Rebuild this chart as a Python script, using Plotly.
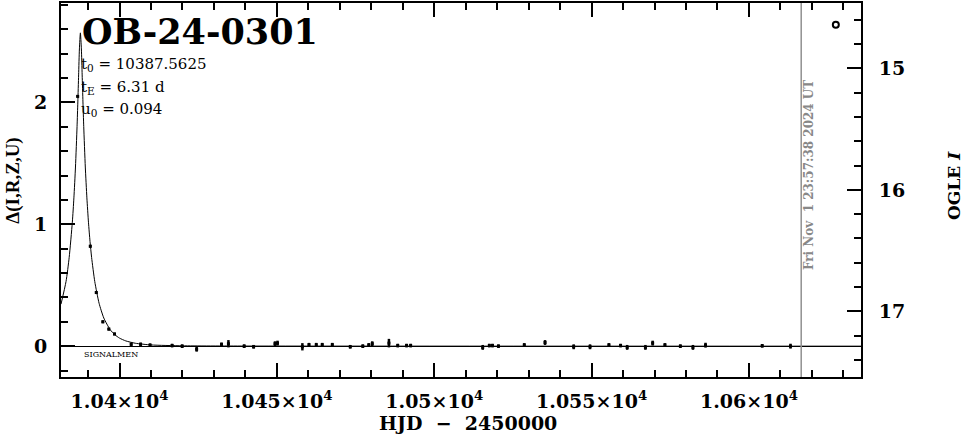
import plotly.graph_objects as go

# ---- data ----
model_t = [10381.4, 10383.0, 10384.0, 10385.0, 10385.5, 10386.0, 10386.5, 10386.75, 10387.0,
           10387.25, 10387.5625, 10387.875, 10388.125, 10388.375, 10388.625, 10389.125,
           10389.625, 10390.125, 10390.625, 10391.125, 10392.125, 10393.5, 10395.0, 10397.0,
           10398.5, 10400.0, 10402.0, 10405.0, 10410.0, 10420.0, 10440.0, 10635.6]
model_d = [0.345, 0.531, 0.728, 1.017, 1.217, 1.470, 1.802, 2.004, 2.226,
           2.439, 2.571, 2.439, 2.226, 2.004, 1.802, 1.470,
           1.217, 1.017, 0.858, 0.728, 0.531, 0.352, 0.231, 0.136,
           0.094, 0.066, 0.043, 0.024, 0.010, 0.003, 0.001, 0.0]

obs_t = [10386.7, 10390.7, 10392.6, 10394.7, 10396.6, 10398.4, 10403.7, 10406.7, 10409.7,
         10416.7, 10419.9, 10424.5, 10432.4, 10434.6, 10439.6, 10442.6, 10449.4, 10450.2,
         10458.1, 10460.2, 10462.5, 10464.4, 10467.6, 10473.3, 10477.3, 10479.2, 10480.3,
         10485.6, 10488.4, 10491.2, 10492.5, 10515.4, 10517.5, 10518.5, 10520.4, 10528.6,
         10535.2, 10544.3, 10549.5, 10555.5, 10559.2, 10561.3, 10567.1, 10569.4, 10573.3,
         10578.2, 10582.2, 10586.2, 10604.2, 10613.2]
obs_d = [2.05, 0.82, 0.44, 0.20, 0.14, 0.10, 0.015, 0.015, 0.008,
         0.005, 0.0, -0.025, 0.015, 0.02, 0.0, -0.005, 0.02, 0.025,
         -0.005, 0.012, 0.012, 0.012, 0.012, -0.005, 0.0, 0.01, 0.02,
         0.025, 0.005, 0.005, 0.005, -0.01, 0.005, 0.005, 0.0, 0.01,
         0.03, -0.005, -0.005, 0.01, 0.005, -0.01, -0.01, 0.025, 0.01,
         0.0, -0.01, 0.008, 0.003, 0.0]
obs_e = [0.01, 0.012, 0.012, 0.012, 0.012, 0.012, 0.015, 0.015, 0.015,
         0.015, 0.015, 0.02, 0.015, 0.03, 0.015, 0.015, 0.02, 0.02,
         0.03, 0.015, 0.015, 0.015, 0.015, 0.015, 0.015, 0.015, 0.02,
         0.035, 0.015, 0.015, 0.015, 0.02, 0.015, 0.015, 0.015, 0.015,
         0.02, 0.02, 0.02, 0.015, 0.015, 0.02, 0.02, 0.02, 0.015,
         0.015, 0.02, 0.02, 0.015, 0.02]

extra_t = [10627.6]
extra_mag = [14.64]

x_ticks = [10400, 10450, 10500, 10550, 10600]
x_ticktext = ["1.04×10<sup>4</sup>", "1.045×10<sup>4</sup>", "1.05×10<sup>4</sup>",
              "1.055×10<sup>4</sup>", "1.06×10<sup>4</sup>"]
y_ticks = [0, 1, 2]
y2_ticks = [15, 16, 17]

event_name = "OB-24-0301"
param_lines = ["t<sub>0</sub> = 10387.5625", "t<sub>E</sub> = 6.31 d", "u<sub>0</sub> = 0.094"]
now_time = 10616.6
now_label = "Fri Nov\u00a0\u00a01 23:57:38 2024 UT"

XR = [10381.4, 10635.6]
YR = [-0.253, 2.816]
Y2R = [17.54, 14.462]

SERIF = "DejaVu Serif"
BOLD = dict(family=SERIF, size=19, color="black", weight="bold")

fig = go.Figure()
fig.add_trace(go.Scatter(x=model_t, y=model_d, mode="lines",
                         line=dict(color="black", width=1, shape="spline", smoothing=0.6),
                         hoverinfo="skip", showlegend=False))
fig.add_trace(go.Scatter(x=obs_t, y=obs_d, mode="markers",
                         marker=dict(symbol="square", size=3, color="black"),
                         error_y=dict(type="data", array=obs_e, visible=True,
                                      thickness=2.5, width=0, color="black"),
                         showlegend=False))
fig.add_trace(go.Scatter(x=extra_t, y=extra_mag, mode="markers", yaxis="y2",
                         marker=dict(symbol="circle-open", size=6, color="black",
                                     line=dict(width=2, color="black")),
                         showlegend=False))

fig.update_layout(
    width=965, height=434,
    margin=dict(l=61, r=104, t=1, b=57),
    paper_bgcolor="white", plot_bgcolor="white",
    font=dict(family=SERIF, color="black"),
    xaxis=dict(range=XR, showgrid=False, zeroline=False,
               showline=True, linecolor="black", linewidth=2, mirror="ticks",
               ticks="inside", ticklen=14, tickwidth=2, tickcolor="black",
               tickvals=x_ticks, ticktext=x_ticktext, tickfont=BOLD,
               ticklabelstandoff=6,
               minor=dict(ticks="inside", dtick=10, tick0=10400, ticklen=7,
                          tickwidth=2, tickcolor="black", showgrid=False)),
    yaxis=dict(range=YR, showgrid=False, zeroline=True, zerolinecolor="black",
               zerolinewidth=1,
               showline=True, linecolor="black", linewidth=2, mirror=False,
               ticks="inside", ticklen=14, tickwidth=2, tickcolor="black",
               tickvals=y_ticks, tickfont=BOLD, ticklabelstandoff=8,
               minor=dict(ticks="inside", dtick=0.2, tick0=0, ticklen=7,
                          tickwidth=2, tickcolor="black", showgrid=False)),
    yaxis2=dict(range=Y2R, overlaying="y", side="right", showgrid=False, zeroline=False,
                showline=True, linecolor="black", linewidth=2,
                ticks="inside", ticklen=14, tickwidth=2, tickcolor="black",
                tickvals=y2_ticks, tickfont=BOLD, ticklabelstandoff=12,
                minor=dict(ticks="inside", dtick=0.2, tick0=15, ticklen=7,
                           tickwidth=2, tickcolor="black", showgrid=False)),
    shapes=[dict(type="line", xref="x", yref="paper", x0=now_time, x1=now_time,
                 y0=0, y1=1, line=dict(color="#909090", width=1.5))],
)

ann = []
ann.append(dict(text=event_name, xref="paper", yref="paper", x=0.024, y=0.923,
                xanchor="left", yanchor="middle", showarrow=False,
                font=dict(family=SERIF, size=35, color="black", weight="bold")))
for i, s in enumerate(param_lines):
    ann.append(dict(text=s, xref="paper", yref="paper", x=0.023, y=0.835 - i * 0.06,
                    xanchor="left", yanchor="middle", showarrow=False,
                    font=dict(family=SERIF, size=15, color="black")))
ann.append(dict(text="SIGNALMEN", xref="paper", yref="paper", x=0.026, y=0.059,
                xanchor="left", yanchor="middle", showarrow=False,
                font=dict(family=SERIF, size=8, color="black")))
ann.append(dict(text="Δ(I,R,Z,U)", xref="paper", yref="paper", x=-0.06, y=0.525,
                xanchor="center", yanchor="middle", textangle=-90, showarrow=False,
                font=dict(family="Liberation Serif", size=19, color="black", weight="bold")))
ann.append(dict(text="OGLE <i>I</i>", xref="paper", yref="paper", x=1.116, y=0.513,
                xanchor="center", yanchor="middle", textangle=-90, showarrow=False,
                font=dict(family=SERIF, size=17, color="black", weight="bold")))
ann.append(dict(text="HJD\u00a0\u00a0−\u00a0\u00a02450000", xref="paper", yref="paper",
                x=0.509, y=-0.122, xanchor="center", yanchor="middle", showarrow=False,
                font=dict(family=SERIF, size=19, color="black", weight="bold")))
ann.append(dict(text=now_label, xref="paper", yref="paper", x=0.935, y=0.54,
                xanchor="center", yanchor="middle", textangle=-90, showarrow=False,
                font=dict(family=SERIF, size=12, color="#888888", weight="bold")))
fig.update_layout(annotations=ann)

fig.write_html("out.html", config={"displayModeBar": False},
               post_script="document.body.style.margin='0px';document.body.style.overflow='hidden';")
